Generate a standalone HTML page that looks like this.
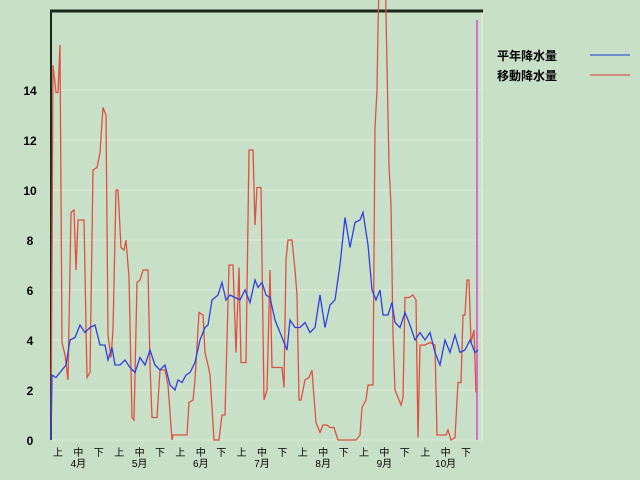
<!DOCTYPE html>
<html><head><meta charset="utf-8"><style>
html,body{margin:0;padding:0;background:#c8dfc8;}
svg{display:block;font-family:"Liberation Sans","Noto Sans CJK JP",sans-serif;}
</style></head><body>
<svg id="s" width="640" height="480" xmlns="http://www.w3.org/2000/svg">
<rect width="640" height="480" fill="#c8dfc8"/>
<g stroke="#dcecd8" stroke-width="1">
<line x1="51" y1="90" x2="482" y2="90"/><line x1="51" y1="140" x2="482" y2="140"/><line x1="51" y1="190" x2="482" y2="190"/><line x1="51" y1="240" x2="482" y2="240"/><line x1="51" y1="290" x2="482" y2="290"/><line x1="51" y1="340" x2="482" y2="340"/><line x1="51" y1="390" x2="482" y2="390"/><line x1="51" y1="440" x2="482" y2="440"/>
</g>
<line x1="482" y1="12" x2="482" y2="440" stroke="#e0eedc" stroke-width="1.5"/>
<line x1="477" y1="20" x2="477" y2="440" stroke="#d070d0" stroke-width="2"/>
<line x1="50" y1="11" x2="483" y2="11" stroke="#1a2a1a" stroke-width="3"/>
<line x1="51" y1="10" x2="51" y2="440" stroke="#1a2a1a" stroke-width="2"/>
<g font-size="12" font-weight="bold" fill="#000" text-anchor="middle">
<text x="30" y="445">0</text><text x="30" y="395">2</text><text x="30" y="345">4</text><text x="30" y="295">6</text><text x="30" y="245">8</text><text x="30" y="195">10</text><text x="30" y="145">12</text><text x="30" y="95">14</text>
</g>
<g id="ax" font-size="10" fill="#000" text-anchor="middle"></g>
<polyline id="red" fill="none" stroke="#e05040" stroke-width="1.3"/>
<polyline id="blue" fill="none" stroke="#3040e0" stroke-width="1.3"/>
<g font-size="12" font-weight="bold" fill="#000">
<text x="497" y="60">平年降水量</text><text x="497" y="80">移動降水量</text>
</g>
<line x1="590" y1="55" x2="630" y2="55" stroke="#5070d0" stroke-width="1.5"/>
<line x1="590" y1="75" x2="630" y2="75" stroke="#d07060" stroke-width="1.5"/>
</svg>
<script>
function pts(a){var r=[];for(var i=0;i<a.length;i+=2)r.push(a[i]+","+(440-25*a[i+1]).toFixed(1));return r.join(" ");}
var B=[51,0,52,2.6,56,2.5,62,2.8,66,3.0,70,4.0,75,4.1,80,4.6,85,4.3,90,4.5,95,4.6,100,3.8,105,3.8,108,3.2,112,3.7,115,3.0,120,3.0,125,3.2,130,2.9,135,2.7,140,3.3,145,3.0,150,3.6,155,3.0,160,2.8,165,3.0,170,2.2,175,2.0,178,2.4,182,2.3,186,2.6,190,2.7,195,3.1,200,4.0,205,4.5,208,4.6,212,5.6,218,5.8,222,6.3,226,5.6,230,5.8,235,5.7,240,5.6,245,6.0,250,5.5,255,6.4,258,6.1,262,6.3,266,5.8,270,5.7,275,4.8,280,4.3,283,4.0,287,3.6,290,4.8,295,4.5,300,4.5,305,4.7,310,4.3,315,4.5,320,5.8,325,4.5,330,5.4,335,5.6,340,7.0,345,8.9,350,7.7,355,8.7,360,8.8,363,9.1,368,7.8,372,6.0,376,5.6,380,6.0,383,5.0,388,5.0,392,5.5,395,4.7,400,4.5,405,5.1,410,4.6,415,4.0,420,4.3,425,4.0,430,4.3,435,3.5,440,3.0,445,4.0,450,3.5,455,4.2,460,3.5,465,3.6,470,4.0,475,3.5,478,3.6];
var R=[51,0,53,15.0,56,13.9,58,13.9,60,15.8,62,3.9,65,3.4,68,2.4,71,9.1,74,9.2,76,6.8,78,8.8,84,8.8,87,2.5,90,2.7,93,10.8,97,10.9,100,11.5,103,13.3,106,13.0,108,4.2,111,3.3,113,4.4,116,10.0,118,10.0,121,7.7,124,7.6,126,8.0,129,6.5,132,0.9,134,0.8,137,6.3,140,6.4,143,6.8,148,6.8,150,3.0,152,0.9,157,0.9,160,2.8,165,2.8,168,2.2,172,0,173,0.2,187,0.2,189,1.5,193,1.6,195,2.4,199,5.1,203,5.0,205,3.5,208,3.0,210,2.6,214,0,219,0,222,1.0,225,1.0,229,7.0,233,7.0,236,3.5,239,6.9,241,3.1,246,3.1,249,11.6,253,11.6,255,8.6,257,10.1,261,10.1,264,1.6,267,2.0,270,6.8,272,2.9,282,2.9,284,2.1,286,7.2,288,8.0,292,8.0,295,6.8,297,5.8,299,1.6,301,1.6,305,2.4,309,2.5,312,2.8,314,1.7,316,0.7,320,0.3,323,0.6,327,0.6,330,0.5,334,0.5,338,0,356,0,360,0.2,362,1.3,366,1.6,368,2.2,373,2.2,375,12.5,377,14.0,378,16.5,380,20,385,20,386,17,389,11,391,9.4,393,4.2,395,2.0,398,1.7,401,1.4,403,1.7,405,5.7,409,5.7,413,5.8,416,5.6,418,0.1,420,3.8,425,3.8,430,3.9,435,3.8,437,0.2,446,0.2,448,0.4,451,0,455,0.1,458,2.3,461,2.3,463,5.0,465,5.0,467,6.4,469,6.4,471,3.9,474,4.4,476,1.9];
document.getElementById("blue").setAttribute("points",pts(B));
document.getElementById("red").setAttribute("points",pts(R));
var ax=document.getElementById("ax"),h="",lab=["上","中","下"],mon=["4月","5月","6月","7月","8月","9月","10月"];
for(var i=0;i<21;i++){var x=58+i*20.4;h+='<text x="'+x.toFixed(1)+'" y="456">'+lab[i%3]+'</text>';if(i%3==1)h+='<text x="'+x.toFixed(1)+'" y="467">'+mon[(i-1)/3]+'</text>';}
ax.innerHTML=h;
</script>
</body></html>
